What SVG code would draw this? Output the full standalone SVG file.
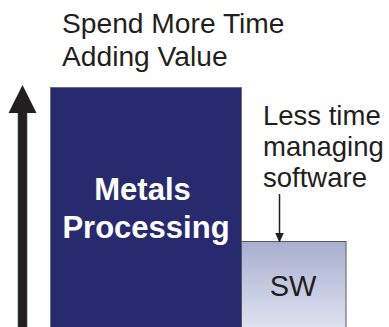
<svg xmlns="http://www.w3.org/2000/svg" width="389" height="327" viewBox="0 0 389 327">
<defs>
<linearGradient id="swg" x1="0" y1="0" x2="0" y2="1">
<stop offset="0" stop-color="#a8aed0"/>
<stop offset="1" stop-color="#e2e5f1"/>
</linearGradient>
<marker id="ah" markerWidth="10" markerHeight="10" refX="9" refY="5" orient="auto" markerUnits="userSpaceOnUse">
<path d="M0,0.5 L10,5 L0,9.5 Z" fill="#231f20"/>
</marker>
<style>
.t{font-family:"Liberation Sans",Arial,sans-serif;fill:#231f20;font-size:27.5px}
.w{font-family:"Liberation Sans",Arial,sans-serif;fill:#ffffff;font-size:31px;font-weight:bold}
</style>
</defs>
<rect width="389" height="327" fill="#ffffff"/>
<g id="title">
<text class="t" x="62" y="33" style="font-size:28.2px">Spend More Time</text>
<text class="t" x="62" y="66" style="font-size:28.2px">Adding Value</text>
</g>
<g id="metals">
<rect x="50.5" y="87.5" width="191" height="245" fill="#272a6f" stroke="#6d6e71" stroke-width="1"/>
<text class="w" x="142.5" y="200" text-anchor="middle">Metals</text>
<text class="w" x="146" y="238" text-anchor="middle">Processing</text>
</g>
<g id="sw">
<rect x="241.5" y="241.5" width="104.5" height="91" fill="url(#swg)" stroke="#58595b" stroke-width="1"/>
<text class="t" x="293" y="296" text-anchor="middle" style="font-size:29px">SW</text>
</g>
<g id="note">
<text class="t" x="263" y="125">Less time</text>
<text class="t" x="263" y="156">managing</text>
<text class="t" x="263" y="187">software</text>
</g>
<g id="connectors">
<line x1="279.5" y1="194" x2="279.5" y2="241.5" stroke="#231f20" stroke-width="1.5" marker-end="url(#ah)"/>
<rect x="17.8" y="110" width="9.4" height="220" fill="#231f20" stroke="#bcbec0" stroke-width="0.6"/>
<path d="M22.5,85 L36.5,113 L8.5,113 Z" fill="#231f20"/>
</g>
</svg>
